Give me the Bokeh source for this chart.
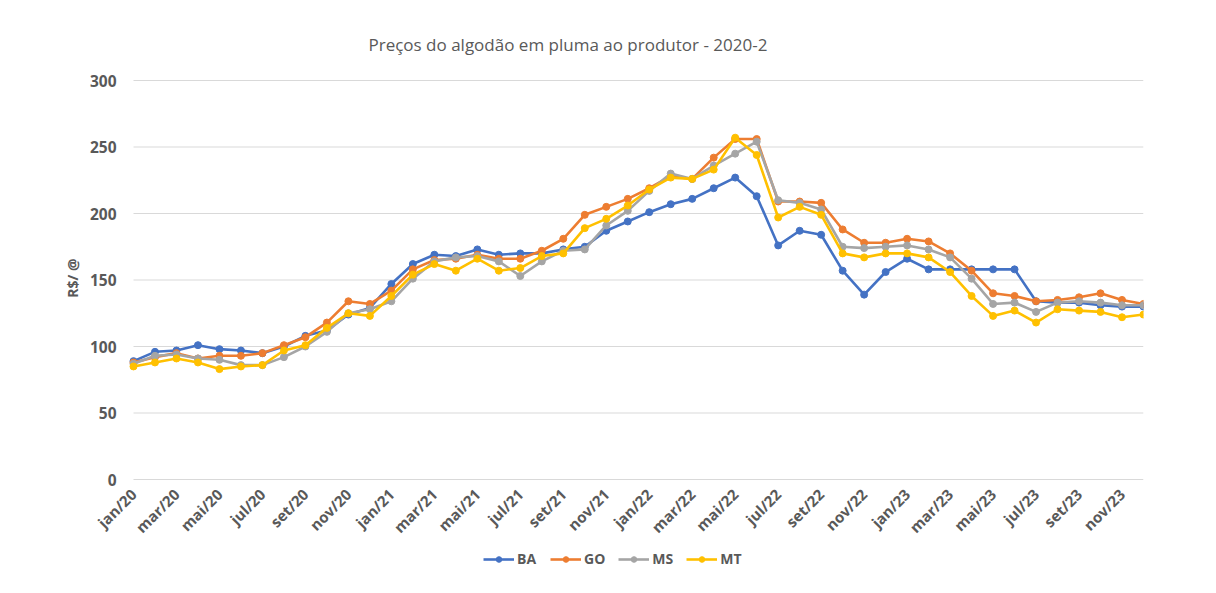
import math
from bokeh.plotting import figure
from bokeh.models import (Range1d, FixedTicker, Legend, LegendItem, ColumnDataSource, Title)
from bokeh.embed import file_html
from bokeh.resources import INLINE

# ---- data ----
month_names = ["jan", "fev", "mar", "abr", "mai", "jun", "jul", "ago", "set", "out", "nov", "dez"]
years = ["20", "21", "22", "23"]
categories = [f"{m}/{y}" for y in years for m in month_names]

BA = [89, 96, 97, 101, 98, 97, 95, 100, 108, 112, 124, 129,
      147, 162, 169, 168, 173, 169, 170, 170, 173, 175, 187, 194,
      201, 207, 211, 219, 227, 213, 176, 187, 184, 157, 139, 156,
      166, 158, 158, 158, 158, 158, 134, 133, 133, 131, 130, 130]
GO = [88, 92, 95, 91, 93, 93, 95, 101, 107, 118, 134, 132,
      142, 158, 165, 166, 169, 166, 166, 172, 181, 199, 205, 211,
      219, 228, 226, 242, 256, 256, 209, 209, 208, 188, 178, 178,
      181, 179, 170, 157, 140, 138, 134, 135, 137, 140, 135, 132]
MS = [87, 93, 94, 91, 90, 86, 86, 92, 100, 111, 125, 128,
      134, 151, 164, 167, 168, 164, 153, 164, 172, 173, 191, 202,
      217, 230, 226, 236, 245, 254, 210, 208, 203, 175, 174, 175,
      176, 173, 167, 151, 132, 133, 126, 133, 134, 133, 131, 131]
MT = [85, 88, 91, 88, 83, 85, 86, 97, 101, 114, 125, 123,
      138, 154, 162, 157, 166, 157, 159, 168, 170, 189, 196, 206,
      218, 227, 226, 233, 257, 244, 197, 205, 199, 170, 167, 170,
      170, 167, 156, 138, 123, 127, 118, 128, 127, 126, 122, 124]

series_names = ["BA", "GO", "MS", "MT"]
series_values = [BA, GO, MS, MT]
series_colors = ["#4472C4", "#ED7D31", "#A5A5A5", "#FFC000"]

title_text = "Preços do algodão em pluma ao produtor - 2020-2"
y_label = "R$/ @"
y_ticks = [0, 50, 100, 150, 200, 250, 300]
y_max_tick = 300

FONT = "Open Sans"
GRAY = "#595959"

# ---- layout (pixels) ----
FIG_W, FIG_H = 1200, 590
frame_left, frame_right, frame_top, frame_bottom = 88, 1143, 66, 585
first_px, last_px = 133, 1143   # where the first and last month sit
zero_px, top_px = 479, 80        # where values 0 and 300 sit
n = len(categories)
px_per_month = (last_px - first_px) / (n - 1)
px_per_unit = (zero_px - top_px) / y_max_tick
x_start = -(first_px - frame_left) / px_per_month
x_end = (n - 1) + (frame_right - last_px) / px_per_month
y_bottom = -(frame_bottom - zero_px) / px_per_unit
y_top = y_max_tick + (top_px - frame_top) / px_per_unit

p = figure(width=FIG_W, height=FIG_H, output_backend="svg", toolbar_location=None,
           x_range=Range1d(x_start, x_end), y_range=Range1d(y_bottom, y_top),
           min_border_left=frame_left, min_border_right=FIG_W - frame_right,
           min_border_top=frame_top, min_border_bottom=FIG_H - frame_bottom)
p.outline_line_color = None
p.background_fill_color = "white"
p.border_fill_color = "white"

p.title.text = title_text
p.title.align = "left"
p.title.offset = 368 - frame_left
p.title.text_font = FONT
p.title.text_font_size = "17px"
p.title.text_font_style = "normal"
p.title.text_color = GRAY
p.title.standoff = 22

# horizontal gridlines spanning the months only
p.xgrid.grid_line_color = None
p.ygrid.grid_line_color = None
p.segment(x0=[0] * len(y_ticks), x1=[n - 1] * len(y_ticks), y0=y_ticks, y1=y_ticks,
          line_color="#D9D9D9", line_width=1)

x = list(range(n))
items = []
for name, vals, col in zip(series_names, series_values, series_colors):
    src = ColumnDataSource(dict(x=x, y=vals))
    r1 = p.line("x", "y", source=src, line_color=col, line_width=2.6)
    r2 = p.scatter("x", "y", source=src, size=7, fill_color=col, line_color=col)
    items.append(LegendItem(label=name, renderers=[r1, r2]))

# axes
xa = p.xaxis[0]
xa.fixed_location = 0
xa.ticker = FixedTicker(ticks=list(range(0, n, 2)))
xa.major_label_overrides = {i: categories[i] for i in range(0, n, 2)}
xa.major_label_orientation = math.pi / 4
xa.axis_line_color = None
xa.major_tick_line_color = None
xa.minor_tick_line_color = None
xa.major_label_text_font = FONT
xa.major_label_text_font_size = "15px"
xa.major_label_text_font_style = "bold"
xa.major_label_text_color = GRAY
xa.major_label_standoff = 6

ya = p.yaxis[0]
ya.fixed_location = 0
ya.ticker = FixedTicker(ticks=y_ticks)
ya.axis_line_color = None
ya.major_tick_line_color = None
ya.minor_tick_line_color = None
ya.major_label_text_font = FONT
ya.major_label_text_font_size = "15.5px"
ya.major_label_text_font_style = "bold"
ya.major_label_text_color = GRAY
ya.major_label_standoff = 11

ytitle = Title(text=y_label, align="right", offset=178 + (80 - frame_top), text_font=FONT,
               text_font_size="14px", text_font_style="bold", text_color=GRAY,
               standoff=14)
p.add_layout(ytitle, "left")

legend = Legend(items=items, orientation="horizontal", location=(483 - frame_left, 17),
                border_line_color=None, background_fill_alpha=0,
                label_text_font=FONT, label_text_font_size="14px",
                label_text_font_style="bold", label_text_color=GRAY,
                glyph_width=31, glyph_height=14, spacing=13, label_standoff=3,
                padding=0, margin=0)
p.add_layout(legend, "center")

open("out.html", "w").write(file_html(p, INLINE))
